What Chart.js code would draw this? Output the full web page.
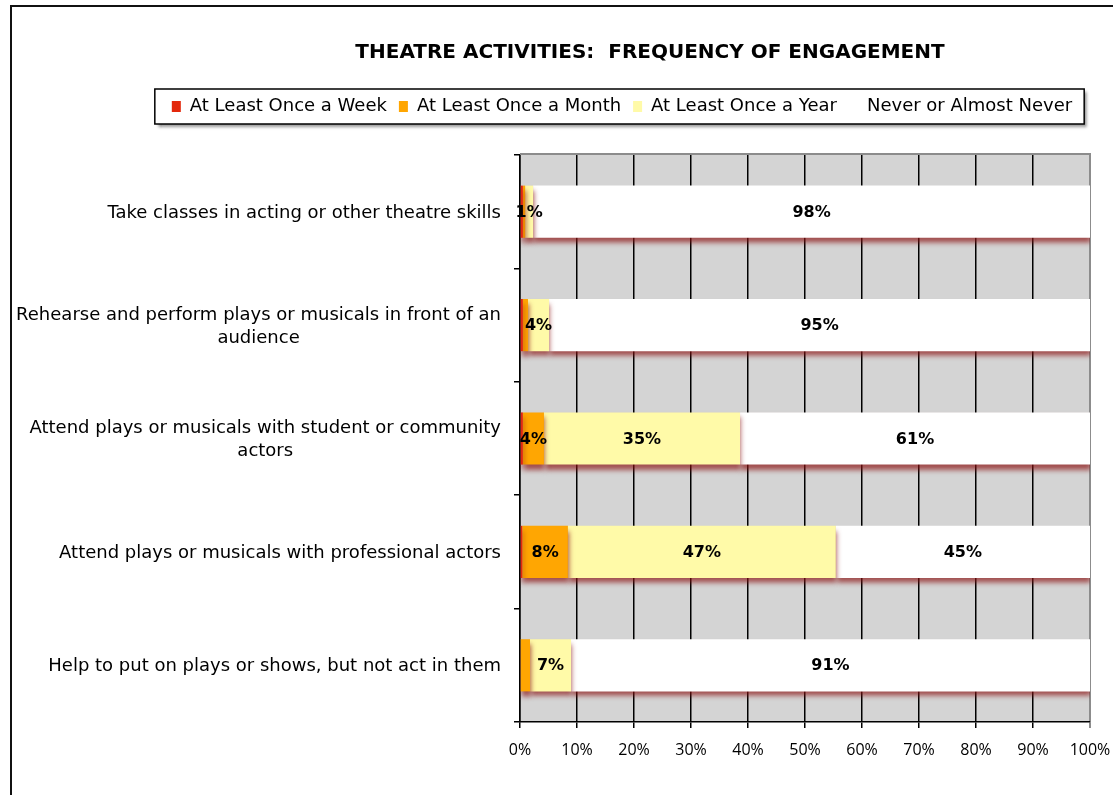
<!DOCTYPE html>
<html>
<head>
<meta charset="utf-8">
<script src="https://cdn.jsdelivr.net/npm/chart.js@4"></script>
<style>
  html, body { margin: 0; padding: 0; background: #fff; overflow: hidden; }
  #frame { position: absolute; left: 10px; top: 5px; width: 1200px; height: 900px; border: 2px solid #111; box-sizing: border-box; }
  #c { position: absolute; left: 0; top: 0; }
</style>
</head>
<body>
<div id="frame"></div>
<canvas id="c" width="1113" height="795"></canvas>
<script>
// ---- data ----
const categories = [
  ['Take classes in acting or other theatre skills'],
  ['Rehearse and perform plays or musicals in front of an', 'audience'],
  ['Attend plays or musicals with student or community', 'actors'],
  ['Attend plays or musicals with professional actors'],
  ['Help to put on plays or shows, but not act in them']
];
const seriesNames = ['At Least Once a Week', 'At Least Once a Month', 'At Least Once a Year', 'Never or Almost Never'];
const weekly  = [0.5, 0.5, 0.5, 0.4, 0];
const monthly = [0.4, 0.9, 3.7, 8.0, 1.75];
const yearly  = [1.4, 3.7, 34.4, 47.0, 7.2];
const never   = [97.7, 94.9, 61.4, 44.6, 91.05];
const weeklyLabels  = [null, null, null, null, null];
const monthlyLabels = [null, null, '4%', '8%', null];
const yearlyLabels  = ['1%', '4%', '35%', '47%', '7%'];
const neverLabels   = ['98%', '95%', '61%', '45%', '91%'];
const xTicks = [0, 10, 20, 30, 40, 50, 60, 70, 80, 90, 100];
const titleText = 'THEATRE ACTIVITIES:  FREQUENCY OF ENGAGEMENT';

const FONT = "'DejaVu Sans', sans-serif";
const FONT_X = "'Open Sans', sans-serif";
const FS = 18;      // category + legend text
const FS_X = 16;    // x tick labels
const FS_V = 16;    // value labels
const colors = ['#e3280c', '#ffa602', '#fffaa8', '#ffffff'];
const segLabels = [weeklyLabels, monthlyLabels, yearlyLabels, neverLabels];
const values = [weekly, monthly, yearly, never];

const helper = {
  id: 'helper',
  afterLayout(chart) {
    const t = chart.titleBlock;
    if (t) {
      const s = 650 - (t.left + t.right) / 2;
      t.left += s; t.right += s;
      const h = t.bottom - t.top;
      t.top = 53 - h / 2; t.bottom = t.top + h;
    }
    const lg = chart.legend;
    if (lg) {
      const s = 622 - (lg.left + lg.right) / 2;
      lg.left += s; lg.right += s;
      const h = lg.bottom - lg.top;
      lg.top = 106.5 - 12 - FS / 2; lg.bottom = lg.top + h;
    }
  },
  beforeDraw(chart) {
    const {ctx, chartArea: a} = chart;
    ctx.save();
    ctx.fillStyle = '#d4d4d4';
    ctx.fillRect(a.left, a.top, a.right - a.left, a.bottom - a.top);
    // legend frame
    const lg = chart.legend;
    const w = lg.lineWidths[0] - 12;
    const cx = (lg.left + lg.right) / 2;
    const x0 = cx - w / 2 - 17, x1 = cx + w / 2 + 12;
    ctx.shadowColor = 'rgba(0,0,0,0.45)';
    ctx.shadowOffsetX = 3; ctx.shadowOffsetY = 3; ctx.shadowBlur = 3;
    ctx.fillStyle = '#fff';
    ctx.fillRect(x0, 89, x1 - x0, 35);
    ctx.shadowColor = 'transparent';
    ctx.strokeStyle = '#000'; ctx.lineWidth = 1.5;
    ctx.strokeRect(x0, 89, x1 - x0, 35);
    ctx.restore();
  },
  beforeDatasetsDraw(chart) {
    const {ctx, chartArea: a} = chart;
    ctx.save();
    ctx.strokeStyle = '#8c8c8c'; ctx.lineWidth = 2;
    ctx.beginPath(); ctx.moveTo(a.left, a.top - 1); ctx.lineTo(a.right + 1, a.top - 1); ctx.stroke();
    ctx.restore();
    ctx.save();
    ctx.shadowColor = 'rgba(140,20,20,0.7)';
    ctx.shadowOffsetX = 1; ctx.shadowOffsetY = 5; ctx.shadowBlur = 5;
  },
  afterDatasetsDraw(chart) {
    const {ctx} = chart;
    ctx.restore();
    ctx.save();
    ctx.fillStyle = '#000';
    ctx.font = "bold " + FS_V + "px " + FONT;
    ctx.textAlign = 'center'; ctx.textBaseline = 'middle';
    chart.data.datasets.forEach((ds, di) => {
      const meta = chart.getDatasetMeta(di);
      meta.data.forEach((el, i) => {
        const lab = segLabels[di][i];
        if (!lab) return;
        ctx.fillText(lab, (el.x + el.base) / 2, el.y + 1);
      });
    });
    // category labels (block right-aligned, lines centered)
    const y = chart.scales.y;
    ctx.font = FS + "px " + FONT;
    const right = y.right - 19;
    chart.data.labels.forEach((lines, i) => {
      const yc = y.getPixelForTick(i) + 1.5;
      const bw = Math.max(...lines.map(l => ctx.measureText(l).width));
      const cx = right - bw / 2;
      const lh = 23;
      lines.forEach((l, k) => {
        ctx.fillText(l, cx, yc + (k - (lines.length - 1) / 2) * lh);
      });
    });
    ctx.restore();
  }
};

new Chart(document.getElementById('c'), {
  type: 'bar',
  data: {
    labels: categories,
    datasets: seriesNames.map((n, i) => ({
      label: n,
      data: values[i],
      backgroundColor: colors[i],
      borderWidth: 0,
      categoryPercentage: 1,
      barPercentage: 0.46
    }))
  },
  options: {
    indexAxis: 'y',
    responsive: false,
    animation: false,
    devicePixelRatio: 1,
    layout: { padding: { top: 91, right: 23, bottom: 0, left: 0 } },
    scales: {
      x: {
        stacked: true, min: 0, max: 100,
        afterBuildTicks: s => { s.ticks = xTicks.map(v => ({ value: v })); },
        ticks: { callback: v => v + '%', color: '#000', font: { family: FONT_X, size: FS_X }, padding: 13, maxRotation: 0, autoSkip: false },
        grid: {
          color: c => (c.tick && c.tick.value === 100) ? '#8c8c8c' : '#000',
          lineWidth: c => (c.tick && c.tick.value === 100) ? 2 : 1.5,
          tickLength: 6, drawTicks: true
        },
        border: { color: '#000', width: 1.5 },
        afterFit: s => { s.height = 73; s.paddingRight = 0; s.paddingLeft = 0; }
      },
      y: {
        stacked: true,
        ticks: { color: 'rgba(0,0,0,0)', font: { family: FONT_X, size: 14 } },
        grid: { drawOnChartArea: false, offset: true, tickLength: 6, color: '#000', lineWidth: 1.5 },
        border: { color: '#000', width: 1.5 },
        afterFit: s => { s.width = 520; s.paddingTop = 0; s.paddingBottom = 0; }
      }
    },
    plugins: {
      title: { display: true, text: titleText, color: '#000', font: { family: FONT, size: 20, weight: 'bold' }, padding: 0 },
      legend: {
        display: true,
        labels: {
          color: '#000', font: { family: FONT, size: FS }, boxWidth: 9, boxHeight: 11, padding: 12,
          generateLabels: ch => Chart.defaults.plugins.legend.labels.generateLabels(ch).map(l => ({ ...l, lineWidth: 0 }))
        }
      },
      tooltip: { enabled: false }
    }
  },
  plugins: [helper]
});
</script>
</body>
</html>
